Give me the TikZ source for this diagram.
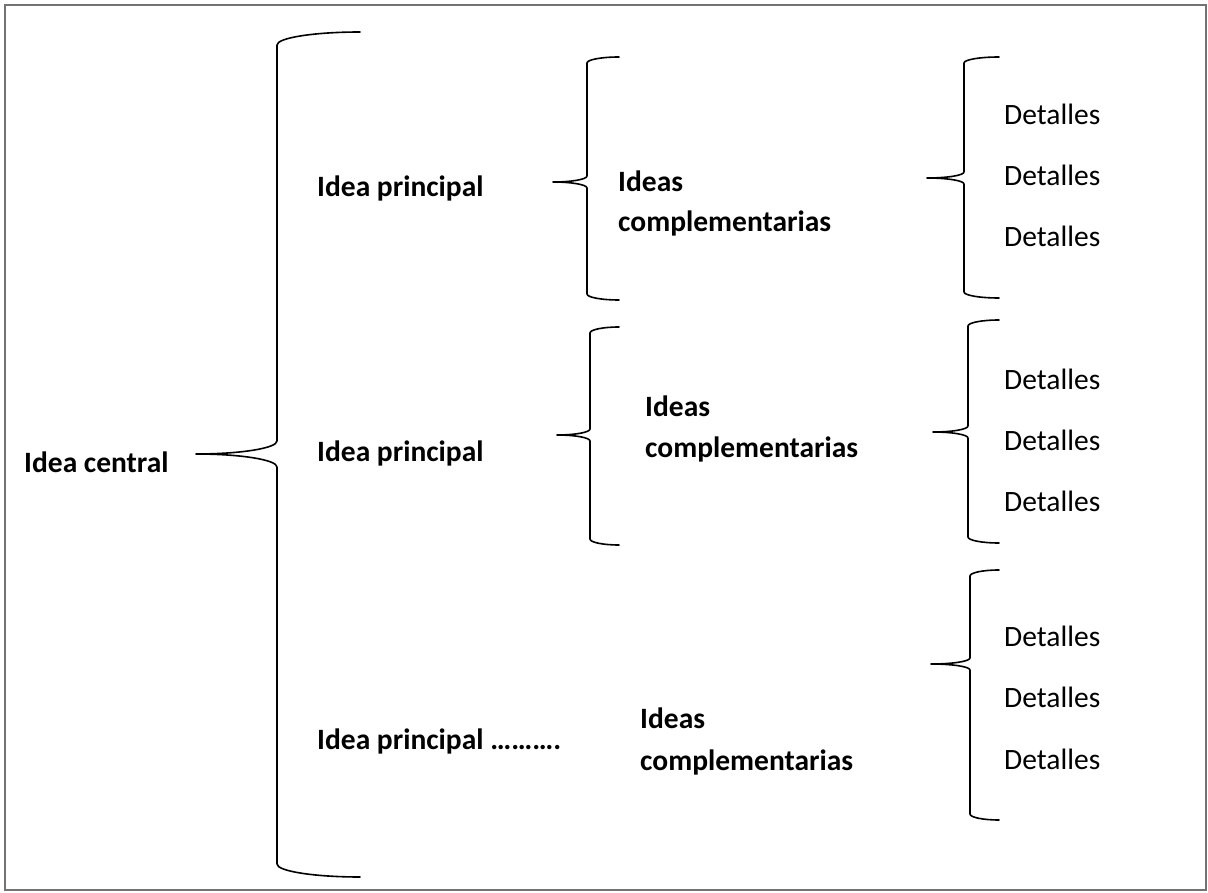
\documentclass[tikz,border=0pt]{standalone}
\usepackage{fontspec}
\setmainfont{Carlito}
\begin{document}
\begin{tikzpicture}[x=1pt,y=-1pt,
  txt/.style={anchor=base west,inner sep=0pt,font=\fontsize{29.5}{35}\selectfont},
  btxt/.style={txt,font=\fontsize{29.5}{35}\selectfont\bfseries},
  bracepath/.style={draw=black,line width=1.6pt,line cap=round,line join=round},
  frame/.style={draw=black!55,line width=1.5pt}]
\useasboundingbox (0,0) rectangle (1208,893);
\draw[frame] (5,5) rectangle (1206,890);

% curly brace: #1 tip x, #2 spine x, #3 point x, #4 top y, #5 middle y, #6 bottom y, #7 corner height
\newcommand{\curlybrace}[7]{%
  \draw[bracepath]
    (#1,#4) .. controls ({#1-0.5523*(#1-#2)},#4) and (#2,{#4+#7-0.5523*#7}) .. (#2,{#4+#7})
    -- (#2,{#5-#7})
    .. controls (#2,{#5-#7+0.5523*#7}) and ({#3+0.5523*(#2-#3)},#5) .. (#3,#5)
    .. controls ({#3+0.5523*(#2-#3)},#5) and (#2,{#5+#7-0.5523*#7}) .. (#2,{#5+#7})
    -- (#2,{#6-#7})
    .. controls (#2,{#6-#7+0.5523*#7}) and ({#1-0.5523*(#1-#2)},#6) .. (#1,#6);}

% main brace
\curlybrace{360}{277}{196}{32}{454}{877}{13}
% second-level braces
\curlybrace{619}{587}{553}{57}{182}{300}{6}
\curlybrace{619}{590}{557}{327}{435}{545}{6}
% detail braces
\curlybrace{999}{964}{927}{57}{178}{298}{6}
\curlybrace{999}{968}{933}{320}{432}{543}{6}
\curlybrace{999}{970}{931}{570}{664}{820}{6}

% texts
\node[btxt] (central) at (24,472) {Idea central};

\node[btxt] (p1) at (317,197) {Idea principal};
\node[btxt] (p2) at (317,461) {Idea principal};
\node[btxt] (p3) at (317,749) {Idea principal ……….};

\node[btxt] (c1a) at (618,192) {Ideas};
\node[btxt] (c1b) at (618,232) {complementarias};
\node[btxt] (c2a) at (645,417) {Ideas};
\node[btxt] (c2b) at (645,457) {complementarias};
\node[btxt] (c3a) at (640,728) {Ideas};
\node[btxt] (c3b) at (640,770) {complementarias};

\node[txt] (d11) at (1004,125) {Detalles};
\node[txt] (d12) at (1004,186) {Detalles};
\node[txt] (d13) at (1004,247) {Detalles};
\node[txt] (d21) at (1004,389) {Detalles};
\node[txt] (d22) at (1004,450) {Detalles};
\node[txt] (d23) at (1004,511) {Detalles};
\node[txt] (d31) at (1004,646) {Detalles};
\node[txt] (d32) at (1004,707) {Detalles};
\node[txt] (d33) at (1004,769) {Detalles};
\end{tikzpicture}
\end{document}
